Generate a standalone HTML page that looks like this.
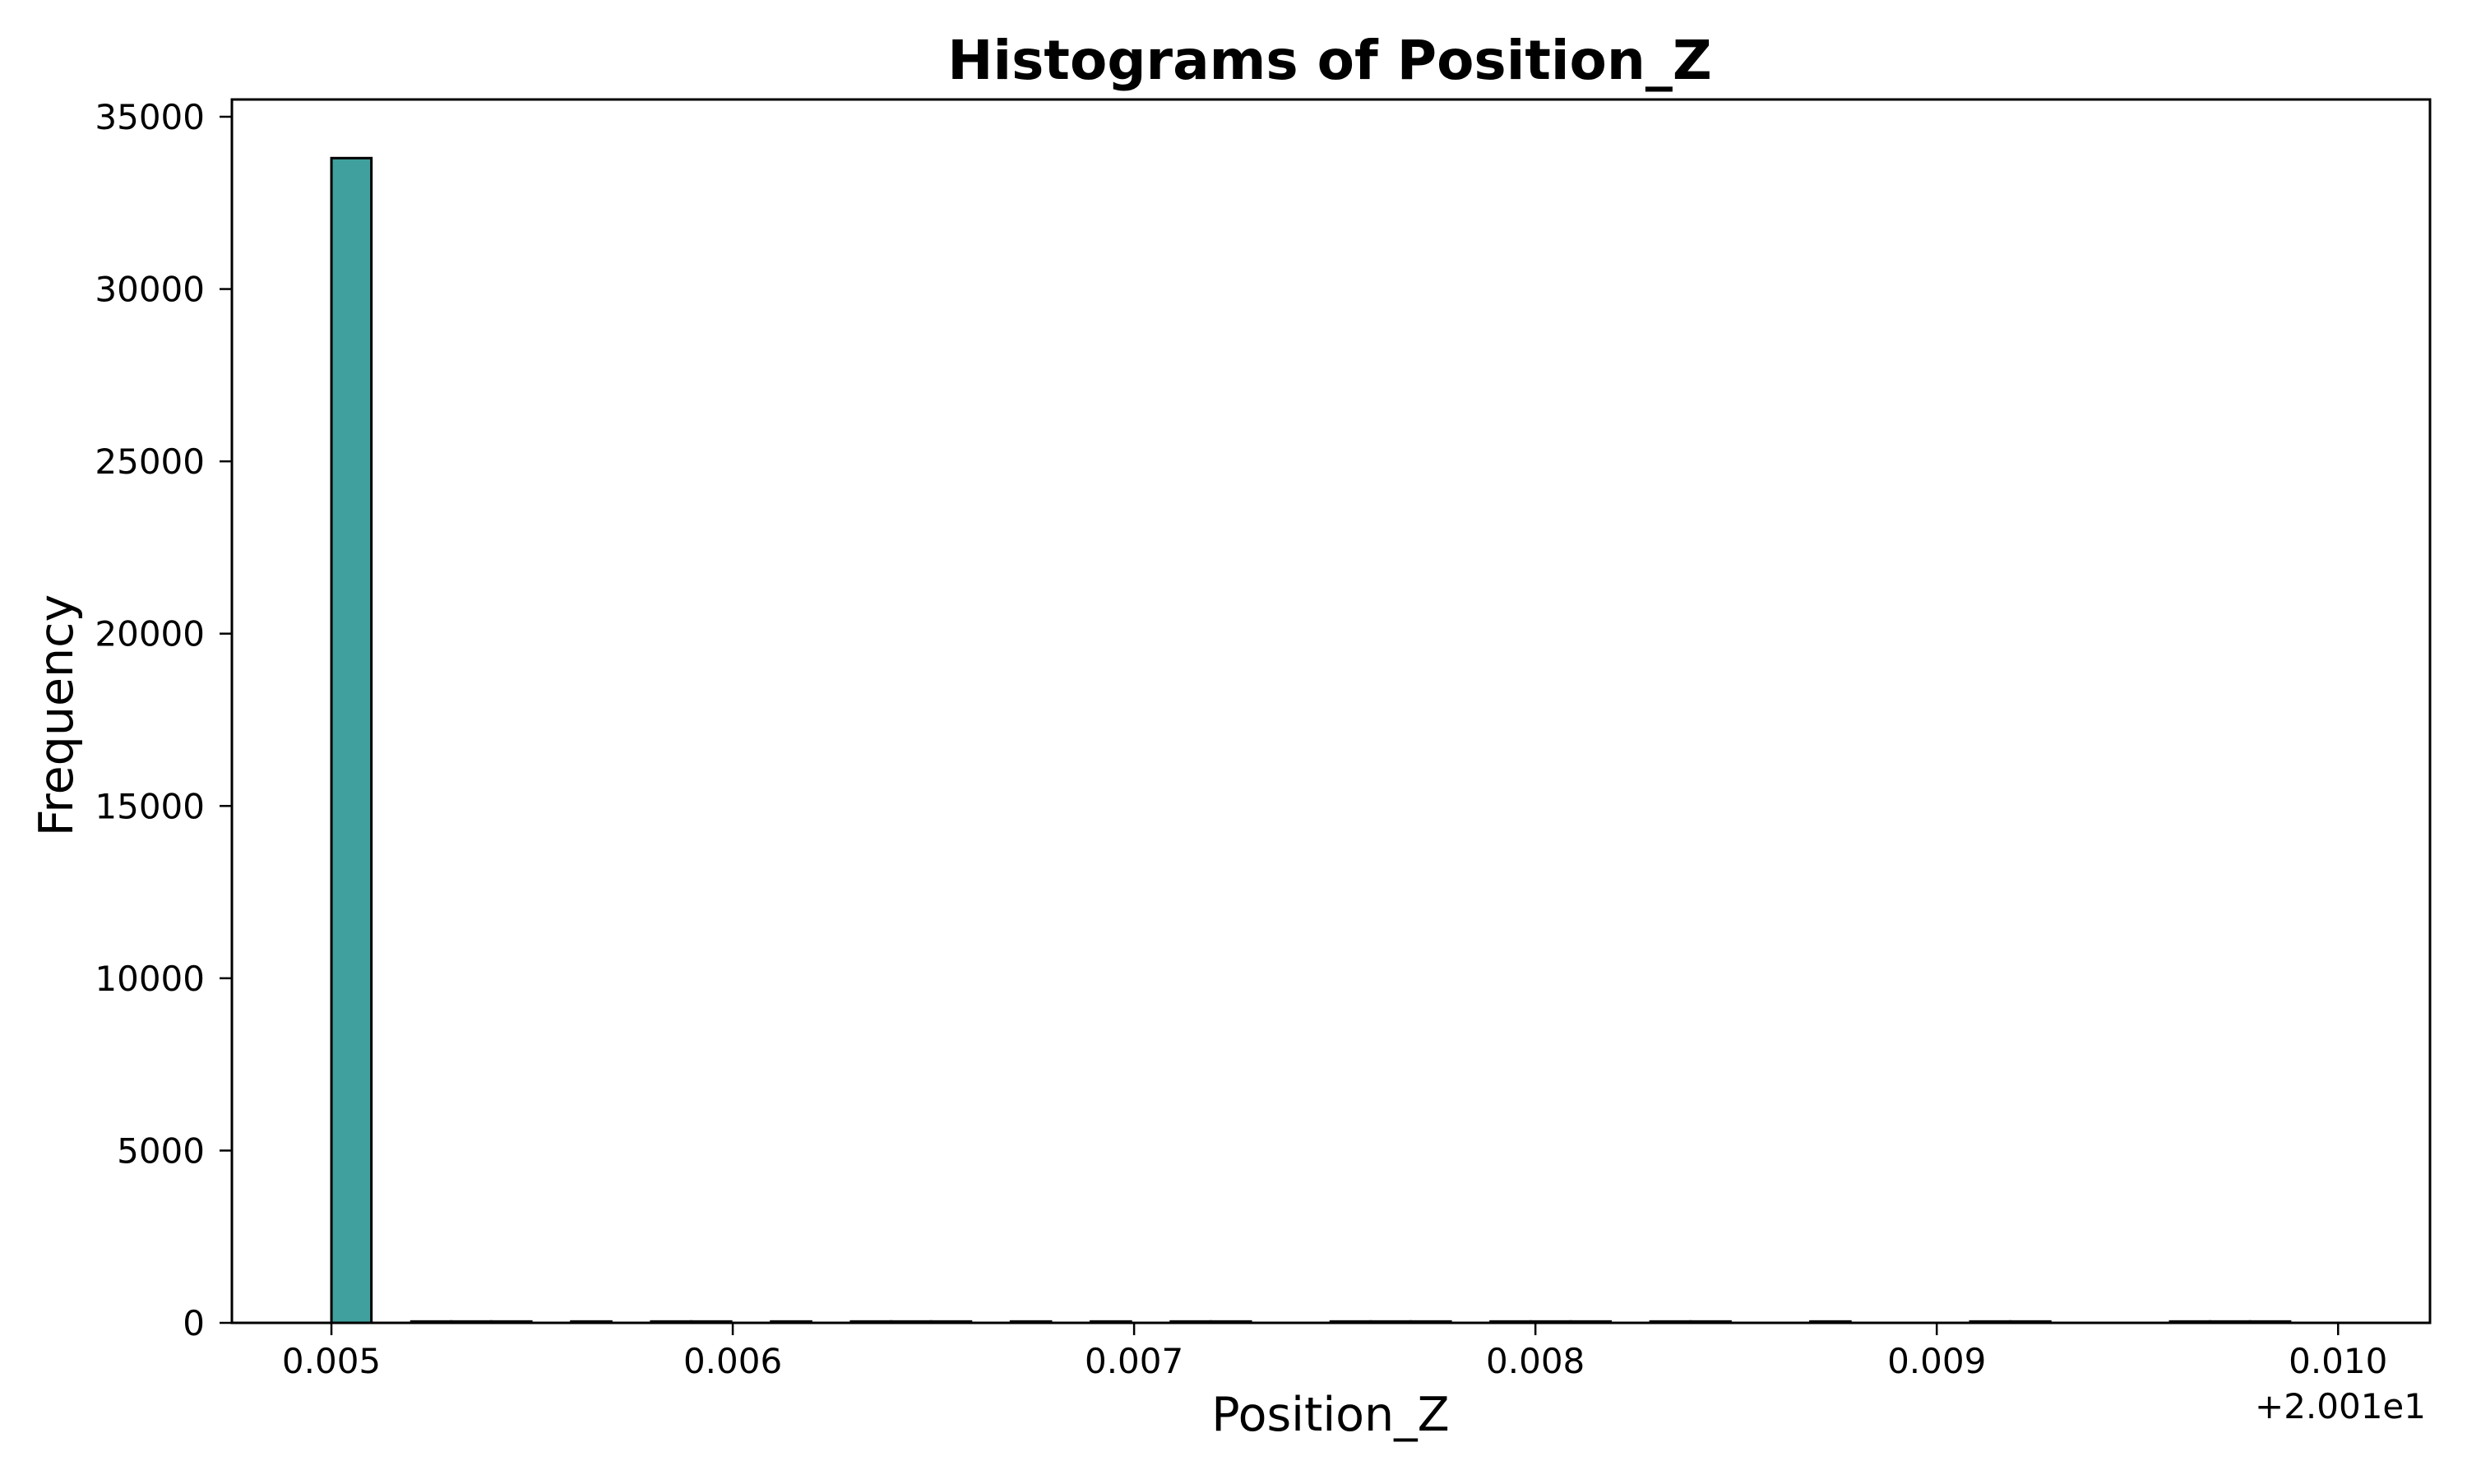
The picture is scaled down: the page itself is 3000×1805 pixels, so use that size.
<!DOCTYPE html>
<html><head><meta charset="utf-8"><style>
html,body{margin:0;padding:0;background:#fff;}
svg text{font-family:"DejaVu Sans","Liberation Sans",sans-serif;fill:#000;}
</style></head><body>
<svg id="chart" width="3000" height="1800" viewBox="0 0 3000 1800" xmlns="http://www.w3.org/2000/svg">
<rect width="3000" height="1800" fill="#fff"/>
<text x="1617" y="96" font-size="66" font-weight="bold" text-anchor="middle">Histograms of Position_Z</text>
<g id="bars"></g>
<g id="xticks"></g>
<g id="yticks"></g>
<rect x="282" y="121" width="2673" height="1488" fill="none" stroke="#000" stroke-width="3"/>
<text x="1618" y="1740" font-size="57" text-anchor="middle">Position_Z</text>
<text transform="translate(88,870) rotate(-90)" font-size="57" text-anchor="middle">Frequency</text>
<text x="2950" y="1725" font-size="42" text-anchor="end">+2.001e1</text>
</svg>
<script>
const binStart = 0.005;
const binWidth = 0.0000996;
const counts = [33800,0,40,40,40,0,40,0,40,40,0,40,0,40,40,40,0,40,0,40,0,40,40,0,0,40,40,40,0,40,40,40,0,40,40,0,0,40,0,0,0,40,40,0,0,0,40,40,40,0];
const xTicks = [0.005,0.006,0.007,0.008,0.009,0.010];
const xTickLabels = ["0.005","0.006","0.007","0.008","0.009","0.010"];
const yTicks = [0,5000,10000,15000,20000,25000,30000,35000];

const L=282,R=2955,T=121,B=1609;
const xmin=0.004752, xmax=0.010229, ymax=35000*(B-T)/(B-142);
const sx=v=>L+(v-xmin)/(xmax-xmin)*(R-L);
const sy=v=>B-v/ymax*(B-T);
const NS="http://www.w3.org/2000/svg";
function mk(tag,attrs,parent){const e=document.createElementNS(NS,tag);for(const k in attrs)e.setAttribute(k,attrs[k]);parent.appendChild(e);return e;}
const bars=document.getElementById('bars');
counts.forEach((c,i)=>{
  if(c<=0) return;
  const x0=sx(binStart+i*binWidth), x1=sx(binStart+(i+1)*binWidth);
  const r=mk('rect',{x:x0,y:sy(c),width:x1-x0,height:B-sy(c),fill:'#40a09e',stroke:'#000','stroke-width':3},bars);
  
  
});
const xg=document.getElementById('xticks');
xTicks.forEach((v,i)=>{
  const x=sx(v);
  const l=mk('line',{x1:x,x2:x,y1:B,y2:B+15,stroke:'#000','stroke-width':2.5},xg);
  
  
  const t=mk('text',{x:x,y:1670,'font-size':42,'text-anchor':'middle'},xg);
  t.textContent=xTickLabels[i];
  
  
});
const yg=document.getElementById('yticks');
yTicks.forEach(v=>{
  const y=sy(v);
  const l=mk('line',{x1:L-15,x2:L,y1:y,y2:y,stroke:'#000','stroke-width':2.5},yg);
  
  
  const t=mk('text',{x:L-33,y:y+15,'font-size':42,'text-anchor':'end'},yg);
  t.textContent=String(v);
  
  
});
</script>
</body></html>
